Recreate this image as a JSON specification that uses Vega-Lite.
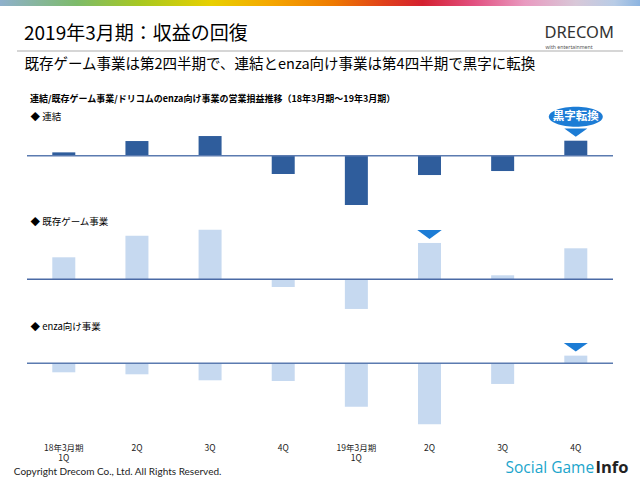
{
  "$schema": "https://vega.github.io/schema/vega-lite/v6.json",
  "padding": 0,
  "background": "white",
  "config": {
    "font": "Noto Sans CJK JP",
    "view": {"stroke": null},
    "axis": {"grid": false}
  },
  "datasets": {
    "pl": [
      {"series": "連結", "period": "18年3月期1Q", "value": 50},
      {"series": "連結", "period": "18年3月期2Q", "value": 220},
      {"series": "連結", "period": "18年3月期3Q", "value": 295},
      {"series": "連結", "period": "18年3月期4Q", "value": -275},
      {"series": "連結", "period": "19年3月期1Q", "value": -740},
      {"series": "連結", "period": "19年3月期2Q", "value": -290},
      {"series": "連結", "period": "19年3月期3Q", "value": -230},
      {"series": "連結", "period": "19年3月期4Q", "value": 225},
      {"series": "既存ゲーム事業", "period": "18年3月期1Q", "value": 330},
      {"series": "既存ゲーム事業", "period": "18年3月期2Q", "value": 655},
      {"series": "既存ゲーム事業", "period": "18年3月期3Q", "value": 745},
      {"series": "既存ゲーム事業", "period": "18年3月期4Q", "value": -115},
      {"series": "既存ゲーム事業", "period": "19年3月期1Q", "value": -445},
      {"series": "既存ゲーム事業", "period": "19年3月期2Q", "value": 545},
      {"series": "既存ゲーム事業", "period": "19年3月期3Q", "value": 60},
      {"series": "既存ゲーム事業", "period": "19年3月期4Q", "value": 465},
      {"series": "enza向け事業", "period": "18年3月期1Q", "value": -135},
      {"series": "enza向け事業", "period": "18年3月期2Q", "value": -165},
      {"series": "enza向け事業", "period": "18年3月期3Q", "value": -255},
      {"series": "enza向け事業", "period": "18年3月期4Q", "value": -265},
      {"series": "enza向け事業", "period": "19年3月期1Q", "value": -650},
      {"series": "enza向け事業", "period": "19年3月期2Q", "value": -915},
      {"series": "enza向け事業", "period": "19年3月期3Q", "value": -310},
      {"series": "enza向け事業", "period": "19年3月期4Q", "value": 115}
    ]
  },
  "bounds": "flush",
  "center": true,
  "spacing": 44,
  "vconcat": [
    {
      "width": 640,
      "height": 6,
      "data": {"values": [{"a": 0, "b": 1}]},
      "mark": {
        "type": "rect",
        "fill": {
          "gradient": "linear", "x1": 0, "x2": 1, "y1": 0, "y2": 0,
          "stops": [
            {"offset": 0, "color": "#8fb0cc"},
            {"offset": 0.12, "color": "#7dbb6a"},
            {"offset": 0.22, "color": "#a8c820"},
            {"offset": 0.33, "color": "#e8d000"},
            {"offset": 0.42, "color": "#f5a800"},
            {"offset": 0.52, "color": "#ee7a00"},
            {"offset": 0.6, "color": "#e0401a"},
            {"offset": 0.66, "color": "#d42030"},
            {"offset": 0.74, "color": "#e25080"},
            {"offset": 0.82, "color": "#e99ac0"},
            {"offset": 0.9, "color": "#d8c8d8"},
            {"offset": 0.96, "color": "#b8cce6"},
            {"offset": 1, "color": "#8cb4e0"}
          ]
        }
      },
      "encoding": {
        "x": {"field": "a", "type": "quantitative", "scale": {"domain": [0, 1], "nice": false},
          "axis": {"title": "with entertainment", "domain": false, "ticks": false, "labels": false, "grid": false,
            "titleX": 545, "titleY": 42, "titleAlign": "left", "titleBaseline": "alphabetic", "titleFont": "Noto Sans", "titleFontSize": 5.2, "titleFontWeight": "normal", "titleColor": "#555"}},
        "x2": {"field": "b"},
        "y": {"field": "a", "type": "quantitative", "scale": {"domain": [0, 1], "nice": false},
          "axis": {"orient": "right", "title": "DRECOM", "domain": false, "ticks": false, "labels": false, "grid": false,
            "titleAngle": 0, "titleX": -96, "titleY": 37.5, "titleAlign": "left", "titleBaseline": "alphabetic", "titleFont": "Noto Sans", "titleFontSize": 16.5, "titleFontWeight": "normal", "titleColor": "#333"}},
        "y2": {"field": "b"}
      }
    },
    {
      "width": 606,
      "height": 14,
      "title": {"text": "2019年3月期：収益の回復", "anchor": "start", "frame": "group", "fontSize": 19, "fontWeight": "normal", "color": "#000", "dx": 7, "offset": 6},
      "data": {"values": [{}]},
      "mark": {"type": "rule", "color": "#c8c8c8", "strokeWidth": 1.5},
      "encoding": {
        "y": {"datum": 0, "type": "quantitative", "scale": {"domain": [-13, 1], "nice": false, "zero": false},
          "axis": {"title": "既存ゲーム事業は第2四半期で、連結とenza向け事業は第4四半期で黒字に転換", "domain": false, "ticks": false, "labels": false, "grid": false,
            "titleAngle": 0, "titleAlign": "left", "titleBaseline": "alphabetic", "titleX": 7, "titleY": 18, "titleFontSize": 14.5, "titleFontWeight": "normal", "titleColor": "#000"}}
      }
    },
    {
      "width": 586,
      "height": 68,
      "title": {"text": "連結/既存ゲーム事業/ドリコムのenza向け事業の営業損益推移（18年3月期～19年3月期）", "anchor": "start", "frame": "group", "fontSize": 9, "fontWeight": "bold", "color": "#000", "dx": 3, "offset": 3},
      "layer": [
        {
          "data": {"name": "pl"},
          "transform": [{"filter": "datum.series == '連結'"}],
          "mark": {"type": "bar", "color": "#2f5d9c"},
          "encoding": {
            "x": {"field": "period", "type": "nominal", "sort": null, "scale": {"type": "band", "paddingInner": 0.6855, "paddingOuter": 0.3486, "align": 0.496},
              "axis": {"title": "Info", "domain": false, "ticks": false, "labels": false, "grid": false,
                "titleX": 568, "titleY": 296, "titleAlign": "left", "titleBaseline": "alphabetic", "titleFont": "Open Sans", "titleFontSize": 16.5, "titleFontWeight": "bold", "titleColor": "#222"}},
            "y": {"field": "value", "type": "quantitative", "scale": {"domain": [-304.5, 715.5], "nice": false, "zero": false},
              "axis": {"title": "◆ 連結", "domain": false, "ticks": false, "labels": false, "grid": false,
                "titleAngle": 0, "titleAlign": "left", "titleBaseline": "middle", "titleX": 3, "titleY": 8.5, "titleFontSize": 9.5, "titleFontWeight": "normal", "titleColor": "#000"}}
          }
        },
        {
          "data": {"values": [{}]},
          "mark": {"type": "rule", "color": "#5b7bb0", "strokeWidth": 1.5},
          "encoding": {"y": {"datum": 0, "type": "quantitative"}}
        },
        {
          "data": {"name": "pl"},
          "transform": [{"filter": "datum.series == '連結' && datum.period == '19年3月期4Q'"}],
          "mark": {"type": "point", "shape": "M-1,-0.36 L1,-0.36 L0,0.36 Z", "size": 530, "filled": true, "color": "#1c7cd5", "opacity": 1, "yOffset": -8},
          "encoding": {
            "x": {"field": "period", "type": "nominal", "sort": null},
            "y": {"field": "value", "type": "quantitative"}
          }
        },
        {
          "data": {"name": "pl"},
          "transform": [{"filter": "datum.series == '連結' && datum.period == '19年3月期4Q'"}],
          "mark": {"type": "point", "shape": "M-1,0 A1,0.37 0 1,1 1,0 A1,0.37 0 1,1 -1,0 Z", "size": 2916, "filled": true, "color": "#1c7cd5", "opacity": 1, "yOffset": -24},
          "encoding": {
            "x": {"field": "period", "type": "nominal", "sort": null},
            "y": {"field": "value", "type": "quantitative"}
          }
        },
        {
          "data": {"name": "pl"},
          "transform": [{"filter": "datum.series == '連結' && datum.period == '19年3月期4Q'"}],
          "mark": {"type": "text", "text": "黒字転換", "color": "white", "fontSize": 11.5, "fontWeight": "bold", "align": "center", "baseline": "middle", "yOffset": -24},
          "encoding": {
            "x": {"field": "period", "type": "nominal", "sort": null},
            "y": {"field": "value", "type": "quantitative"}
          }
        }
      ]
    },
    {
      "width": 586,
      "height": 95,
      "layer": [
        {
          "data": {"name": "pl"},
          "transform": [{"filter": "datum.series == '既存ゲーム事業'"}],
          "mark": {"type": "bar", "color": "#c6d9f0"},
          "encoding": {
            "x": {"field": "period", "type": "nominal", "sort": null, "scale": {"type": "band", "paddingInner": 0.6855, "paddingOuter": 0.3486, "align": 0.496},
              "axis": {"title": "Social Game", "domain": false, "ticks": false, "labels": false, "grid": false,
                "titleX": 478, "titleY": 157, "titleAlign": "left", "titleBaseline": "alphabetic", "titleFont": "Open Sans", "titleFontSize": 15.5, "titleFontWeight": "normal", "titleColor": "#1ba5cc"}},
            "y": {"field": "value", "type": "quantitative", "scale": {"domain": [-535.5, 889.5], "nice": false, "zero": false},
              "axis": {"title": "◆ 既存ゲーム事業", "domain": false, "ticks": false, "labels": false, "grid": false,
                "titleAngle": 0, "titleAlign": "left", "titleBaseline": "middle", "titleX": 3, "titleY": 1.7, "titleFontSize": 9.5, "titleFontWeight": "normal", "titleColor": "#000"}}
          }
        },
        {
          "data": {"values": [{}]},
          "mark": {"type": "rule", "color": "#4a6aa5", "strokeWidth": 1.5},
          "encoding": {"y": {"datum": 0, "type": "quantitative"}}
        },
        {
          "data": {"name": "pl"},
          "transform": [{"filter": "datum.series == '既存ゲーム事業' && datum.period == '19年3月期2Q'"}],
          "mark": {"type": "point", "shape": "M-1,-0.36 L1,-0.36 L0,0.36 Z", "size": 600, "filled": true, "color": "#1c7cd5", "opacity": 1, "yOffset": -8.5},
          "encoding": {
            "x": {"field": "period", "type": "nominal", "sort": null},
            "y": {"field": "value", "type": "quantitative"}
          }
        }
      ]
    },
    {
      "width": 586,
      "height": 71,
      "layer": [
        {
          "data": {"name": "pl"},
          "transform": [{"filter": "datum.series == 'enza向け事業'"}],
          "mark": {"type": "bar", "color": "#c6d9f0"},
          "encoding": {
            "x": {"field": "period", "type": "nominal", "sort": null, "scale": {"type": "band", "paddingInner": 0.6855, "paddingOuter": 0.3486, "align": 0.496},
              "axis": {"title": "Copyright Drecom Co., Ltd. All Rights Reserved.", "domain": false, "ticks": false, "tickSize": 0, "labelPadding": 13, "labelAngle": 0, "labelFontSize": 8.5, "labelColor": "#222", "labelLineHeight": 10.5, "labelBaseline": "top",
                "labelExpr": "slice(datum.value, -2) == '1Q' ? [slice(datum.value, 0, -2), '1Q'] : slice(datum.value, -2)",
                "titleX": -13.7, "titleY": 44.5, "titleAlign": "left", "titleBaseline": "alphabetic", "titleFont": "Lato", "titleFontSize": 10, "titleFontWeight": "normal", "titleColor": "#222"}},
            "y": {"field": "value", "type": "quantitative", "scale": {"domain": [-1000.5, 64.5], "nice": false, "zero": false},
              "axis": {"title": "◆ enza向け事業", "domain": false, "ticks": false, "labels": false, "grid": false,
                "titleAngle": 0, "titleAlign": "left", "titleBaseline": "middle", "titleX": 3, "titleY": -32.3, "titleFontSize": 9.5, "titleFontWeight": "normal", "titleColor": "#000"}}
          }
        },
        {
          "data": {"values": [{}]},
          "mark": {"type": "rule", "color": "#5b7bb0", "strokeWidth": 1.5},
          "encoding": {"y": {"datum": 0, "type": "quantitative"}}
        },
        {
          "data": {"name": "pl"},
          "transform": [{"filter": "datum.series == 'enza向け事業' && datum.period == '19年3月期4Q'"}],
          "mark": {"type": "point", "shape": "M-1,-0.36 L1,-0.36 L0,0.36 Z", "size": 576, "filled": true, "color": "#1c7cd5", "opacity": 1, "yOffset": -8.4},
          "encoding": {
            "x": {"field": "period", "type": "nominal", "sort": null},
            "y": {"field": "value", "type": "quantitative"}
          }
        }
      ]
    }
  ]
}
